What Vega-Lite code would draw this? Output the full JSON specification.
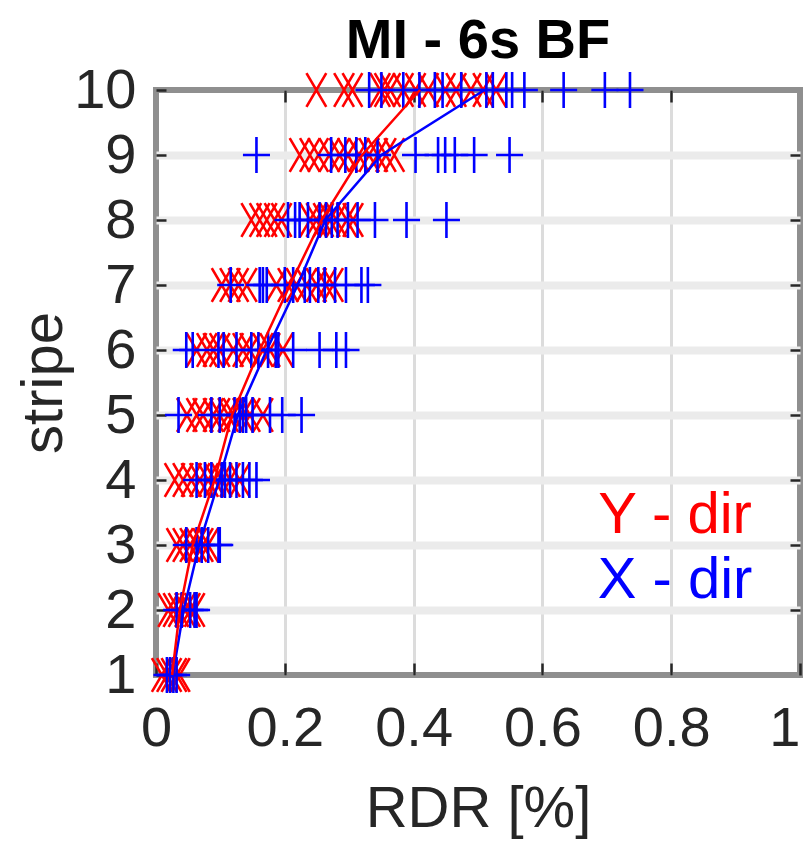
{
  "$schema": "https://vega.github.io/schema/vega-lite/v6.json",
  "autosize": "none",
  "width": 644,
  "height": 585,
  "padding": {"left": 156, "top": 90, "right": 10, "bottom": 184},
  "background": "white",
  "title": {"text": "MI - 6s BF", "fontSize": 56, "fontWeight": "bold", "font": "Liberation Sans", "color": "#000000", "offset": -8, "anchor": "middle"},
  "datasets": {
    "pts": [
      {"stripe": 10, "rdr": 0.249, "dir": "Y"}, {"stripe": 10, "rdr": 0.292, "dir": "Y"}, {"stripe": 10, "rdr": 0.305, "dir": "Y"}, {"stripe": 10, "rdr": 0.348, "dir": "Y"}, {"stripe": 10, "rdr": 0.355, "dir": "Y"}, {"stripe": 10, "rdr": 0.364, "dir": "Y"}, {"stripe": 10, "rdr": 0.384, "dir": "Y"}, {"stripe": 10, "rdr": 0.403, "dir": "Y"}, {"stripe": 10, "rdr": 0.423, "dir": "Y"}, {"stripe": 10, "rdr": 0.449, "dir": "Y"}, {"stripe": 10, "rdr": 0.466, "dir": "Y"}, {"stripe": 10, "rdr": 0.489, "dir": "Y"}, {"stripe": 10, "rdr": 0.508, "dir": "Y"}, {"stripe": 10, "rdr": 0.528, "dir": "Y"},
      {"stripe": 9, "rdr": 0.223, "dir": "Y"}, {"stripe": 9, "rdr": 0.239, "dir": "Y"}, {"stripe": 9, "rdr": 0.252, "dir": "Y"}, {"stripe": 9, "rdr": 0.269, "dir": "Y"}, {"stripe": 9, "rdr": 0.285, "dir": "Y"}, {"stripe": 9, "rdr": 0.298, "dir": "Y"}, {"stripe": 9, "rdr": 0.315, "dir": "Y"}, {"stripe": 9, "rdr": 0.331, "dir": "Y"}, {"stripe": 9, "rdr": 0.344, "dir": "Y"}, {"stripe": 9, "rdr": 0.357, "dir": "Y"}, {"stripe": 9, "rdr": 0.370, "dir": "Y"},
      {"stripe": 8, "rdr": 0.148, "dir": "Y"}, {"stripe": 8, "rdr": 0.161, "dir": "Y"}, {"stripe": 8, "rdr": 0.172, "dir": "Y"}, {"stripe": 8, "rdr": 0.184, "dir": "Y"}, {"stripe": 8, "rdr": 0.195, "dir": "Y"}, {"stripe": 8, "rdr": 0.239, "dir": "Y"}, {"stripe": 8, "rdr": 0.249, "dir": "Y"}, {"stripe": 8, "rdr": 0.260, "dir": "Y"}, {"stripe": 8, "rdr": 0.270, "dir": "Y"}, {"stripe": 8, "rdr": 0.280, "dir": "Y"}, {"stripe": 8, "rdr": 0.296, "dir": "Y"}, {"stripe": 8, "rdr": 0.306, "dir": "Y"},
      {"stripe": 7, "rdr": 0.102, "dir": "Y"}, {"stripe": 7, "rdr": 0.115, "dir": "Y"}, {"stripe": 7, "rdr": 0.128, "dir": "Y"}, {"stripe": 7, "rdr": 0.141, "dir": "Y"}, {"stripe": 7, "rdr": 0.187, "dir": "Y"}, {"stripe": 7, "rdr": 0.205, "dir": "Y"}, {"stripe": 7, "rdr": 0.218, "dir": "Y"}, {"stripe": 7, "rdr": 0.234, "dir": "Y"}, {"stripe": 7, "rdr": 0.249, "dir": "Y"}, {"stripe": 7, "rdr": 0.264, "dir": "Y"}, {"stripe": 7, "rdr": 0.275, "dir": "Y"},
      {"stripe": 6, "rdr": 0.063, "dir": "Y"}, {"stripe": 6, "rdr": 0.079, "dir": "Y"}, {"stripe": 6, "rdr": 0.089, "dir": "Y"}, {"stripe": 6, "rdr": 0.099, "dir": "Y"}, {"stripe": 6, "rdr": 0.120, "dir": "Y"}, {"stripe": 6, "rdr": 0.135, "dir": "Y"}, {"stripe": 6, "rdr": 0.146, "dir": "Y"}, {"stripe": 6, "rdr": 0.166, "dir": "Y"}, {"stripe": 6, "rdr": 0.177, "dir": "Y"}, {"stripe": 6, "rdr": 0.197, "dir": "Y"},
      {"stripe": 5, "rdr": 0.048, "dir": "Y"}, {"stripe": 5, "rdr": 0.063, "dir": "Y"}, {"stripe": 5, "rdr": 0.073, "dir": "Y"}, {"stripe": 5, "rdr": 0.089, "dir": "Y"}, {"stripe": 5, "rdr": 0.099, "dir": "Y"}, {"stripe": 5, "rdr": 0.112, "dir": "Y"}, {"stripe": 5, "rdr": 0.120, "dir": "Y"}, {"stripe": 5, "rdr": 0.135, "dir": "Y"}, {"stripe": 5, "rdr": 0.146, "dir": "Y"}, {"stripe": 5, "rdr": 0.166, "dir": "Y"},
      {"stripe": 4, "rdr": 0.029, "dir": "Y"}, {"stripe": 4, "rdr": 0.042, "dir": "Y"}, {"stripe": 4, "rdr": 0.055, "dir": "Y"}, {"stripe": 4, "rdr": 0.068, "dir": "Y"}, {"stripe": 4, "rdr": 0.081, "dir": "Y"}, {"stripe": 4, "rdr": 0.091, "dir": "Y"}, {"stripe": 4, "rdr": 0.102, "dir": "Y"}, {"stripe": 4, "rdr": 0.115, "dir": "Y"}, {"stripe": 4, "rdr": 0.130, "dir": "Y"},
      {"stripe": 3, "rdr": 0.032, "dir": "Y"}, {"stripe": 3, "rdr": 0.042, "dir": "Y"}, {"stripe": 3, "rdr": 0.053, "dir": "Y"}, {"stripe": 3, "rdr": 0.063, "dir": "Y"}, {"stripe": 3, "rdr": 0.073, "dir": "Y"}, {"stripe": 3, "rdr": 0.081, "dir": "Y"},
      {"stripe": 2, "rdr": 0.019, "dir": "Y"}, {"stripe": 2, "rdr": 0.027, "dir": "Y"}, {"stripe": 2, "rdr": 0.035, "dir": "Y"}, {"stripe": 2, "rdr": 0.045, "dir": "Y"}, {"stripe": 2, "rdr": 0.053, "dir": "Y"}, {"stripe": 2, "rdr": 0.060, "dir": "Y"},
      {"stripe": 1, "rdr": 0.009, "dir": "Y"}, {"stripe": 1, "rdr": 0.017, "dir": "Y"}, {"stripe": 1, "rdr": 0.024, "dir": "Y"}, {"stripe": 1, "rdr": 0.032, "dir": "Y"}, {"stripe": 1, "rdr": 0.037, "dir": "Y"},
      {"stripe": 10, "rdr": 0.331, "dir": "X"}, {"stripe": 10, "rdr": 0.350, "dir": "X"}, {"stripe": 10, "rdr": 0.384, "dir": "X"}, {"stripe": 10, "rdr": 0.409, "dir": "X"}, {"stripe": 10, "rdr": 0.433, "dir": "X"}, {"stripe": 10, "rdr": 0.445, "dir": "X"}, {"stripe": 10, "rdr": 0.474, "dir": "X"}, {"stripe": 10, "rdr": 0.513, "dir": "X"}, {"stripe": 10, "rdr": 0.523, "dir": "X"}, {"stripe": 10, "rdr": 0.544, "dir": "X"}, {"stripe": 10, "rdr": 0.553, "dir": "X"}, {"stripe": 10, "rdr": 0.572, "dir": "X"}, {"stripe": 10, "rdr": 0.633, "dir": "X"}, {"stripe": 10, "rdr": 0.697, "dir": "X"}, {"stripe": 10, "rdr": 0.736, "dir": "X"},
      {"stripe": 9, "rdr": 0.156, "dir": "X"}, {"stripe": 9, "rdr": 0.272, "dir": "X"}, {"stripe": 9, "rdr": 0.294, "dir": "X"}, {"stripe": 9, "rdr": 0.311, "dir": "X"}, {"stripe": 9, "rdr": 0.325, "dir": "X"}, {"stripe": 9, "rdr": 0.344, "dir": "X"}, {"stripe": 9, "rdr": 0.403, "dir": "X"}, {"stripe": 9, "rdr": 0.438, "dir": "X"}, {"stripe": 9, "rdr": 0.449, "dir": "X"}, {"stripe": 9, "rdr": 0.464, "dir": "X"}, {"stripe": 9, "rdr": 0.494, "dir": "X"}, {"stripe": 9, "rdr": 0.549, "dir": "X"},
      {"stripe": 8, "rdr": 0.205, "dir": "X"}, {"stripe": 8, "rdr": 0.216, "dir": "X"}, {"stripe": 8, "rdr": 0.223, "dir": "X"}, {"stripe": 8, "rdr": 0.236, "dir": "X"}, {"stripe": 8, "rdr": 0.254, "dir": "X"}, {"stripe": 8, "rdr": 0.264, "dir": "X"}, {"stripe": 8, "rdr": 0.273, "dir": "X"}, {"stripe": 8, "rdr": 0.282, "dir": "X"}, {"stripe": 8, "rdr": 0.298, "dir": "X"}, {"stripe": 8, "rdr": 0.313, "dir": "X"}, {"stripe": 8, "rdr": 0.340, "dir": "X"}, {"stripe": 8, "rdr": 0.389, "dir": "X"}, {"stripe": 8, "rdr": 0.451, "dir": "X"},
      {"stripe": 7, "rdr": 0.116, "dir": "X"}, {"stripe": 7, "rdr": 0.161, "dir": "X"}, {"stripe": 7, "rdr": 0.166, "dir": "X"}, {"stripe": 7, "rdr": 0.172, "dir": "X"}, {"stripe": 7, "rdr": 0.200, "dir": "X"}, {"stripe": 7, "rdr": 0.213, "dir": "X"}, {"stripe": 7, "rdr": 0.231, "dir": "X"}, {"stripe": 7, "rdr": 0.239, "dir": "X"}, {"stripe": 7, "rdr": 0.252, "dir": "X"}, {"stripe": 7, "rdr": 0.262, "dir": "X"}, {"stripe": 7, "rdr": 0.278, "dir": "X"}, {"stripe": 7, "rdr": 0.295, "dir": "X"}, {"stripe": 7, "rdr": 0.319, "dir": "X"}, {"stripe": 7, "rdr": 0.329, "dir": "X"},
      {"stripe": 6, "rdr": 0.047, "dir": "X"}, {"stripe": 6, "rdr": 0.057, "dir": "X"}, {"stripe": 6, "rdr": 0.097, "dir": "X"}, {"stripe": 6, "rdr": 0.105, "dir": "X"}, {"stripe": 6, "rdr": 0.125, "dir": "X"}, {"stripe": 6, "rdr": 0.148, "dir": "X"}, {"stripe": 6, "rdr": 0.159, "dir": "X"}, {"stripe": 6, "rdr": 0.174, "dir": "X"}, {"stripe": 6, "rdr": 0.186, "dir": "X"}, {"stripe": 6, "rdr": 0.190, "dir": "X"}, {"stripe": 6, "rdr": 0.213, "dir": "X"}, {"stripe": 6, "rdr": 0.254, "dir": "X"}, {"stripe": 6, "rdr": 0.280, "dir": "X"}, {"stripe": 6, "rdr": 0.295, "dir": "X"},
      {"stripe": 5, "rdr": 0.035, "dir": "X"}, {"stripe": 5, "rdr": 0.086, "dir": "X"}, {"stripe": 5, "rdr": 0.099, "dir": "X"}, {"stripe": 5, "rdr": 0.122, "dir": "X"}, {"stripe": 5, "rdr": 0.130, "dir": "X"}, {"stripe": 5, "rdr": 0.135, "dir": "X"}, {"stripe": 5, "rdr": 0.140, "dir": "X"}, {"stripe": 5, "rdr": 0.150, "dir": "X"}, {"stripe": 5, "rdr": 0.177, "dir": "X"}, {"stripe": 5, "rdr": 0.196, "dir": "X"}, {"stripe": 5, "rdr": 0.226, "dir": "X"},
      {"stripe": 4, "rdr": 0.063, "dir": "X"}, {"stripe": 4, "rdr": 0.076, "dir": "X"}, {"stripe": 4, "rdr": 0.086, "dir": "X"}, {"stripe": 4, "rdr": 0.102, "dir": "X"}, {"stripe": 4, "rdr": 0.107, "dir": "X"}, {"stripe": 4, "rdr": 0.115, "dir": "X"}, {"stripe": 4, "rdr": 0.125, "dir": "X"}, {"stripe": 4, "rdr": 0.135, "dir": "X"}, {"stripe": 4, "rdr": 0.145, "dir": "X"}, {"stripe": 4, "rdr": 0.156, "dir": "X"},
      {"stripe": 3, "rdr": 0.047, "dir": "X"}, {"stripe": 3, "rdr": 0.063, "dir": "X"}, {"stripe": 3, "rdr": 0.071, "dir": "X"}, {"stripe": 3, "rdr": 0.081, "dir": "X"}, {"stripe": 3, "rdr": 0.097, "dir": "X"}, {"stripe": 3, "rdr": 0.099, "dir": "X"},
      {"stripe": 2, "rdr": 0.032, "dir": "X"}, {"stripe": 2, "rdr": 0.040, "dir": "X"}, {"stripe": 2, "rdr": 0.053, "dir": "X"}, {"stripe": 2, "rdr": 0.060, "dir": "X"}, {"stripe": 2, "rdr": 0.063, "dir": "X"},
      {"stripe": 1, "rdr": 0.017, "dir": "X"}, {"stripe": 1, "rdr": 0.022, "dir": "X"}, {"stripe": 1, "rdr": 0.027, "dir": "X"}, {"stripe": 1, "rdr": 0.032, "dir": "X"}
    ],
    "means": [
      {"stripe": 1, "rdr": 0.026, "dir": "X"}, {"stripe": 2, "rdr": 0.043, "dir": "X"}, {"stripe": 3, "rdr": 0.067, "dir": "X"}, {"stripe": 4, "rdr": 0.098, "dir": "X"}, {"stripe": 5, "rdr": 0.127, "dir": "X"}, {"stripe": 6, "rdr": 0.172, "dir": "X"}, {"stripe": 7, "rdr": 0.220, "dir": "X"}, {"stripe": 8, "rdr": 0.263, "dir": "X"}, {"stripe": 9, "rdr": 0.350, "dir": "X"}, {"stripe": 10, "rdr": 0.510, "dir": "X"},
      {"stripe": 1, "rdr": 0.025, "dir": "Y"}, {"stripe": 2, "rdr": 0.037, "dir": "Y"}, {"stripe": 3, "rdr": 0.057, "dir": "Y"}, {"stripe": 4, "rdr": 0.091, "dir": "Y"}, {"stripe": 5, "rdr": 0.118, "dir": "Y"}, {"stripe": 6, "rdr": 0.161, "dir": "Y"}, {"stripe": 7, "rdr": 0.208, "dir": "Y"}, {"stripe": 8, "rdr": 0.257, "dir": "Y"}, {"stripe": 9, "rdr": 0.320, "dir": "Y"}, {"stripe": 10, "rdr": 0.410, "dir": "Y"}
    ],
    "labels": [
      {"stripe": 3.18, "rdr": 0.806, "dir": "Y", "label": "Y - dir"},
      {"stripe": 2.18, "rdr": 0.806, "dir": "X", "label": "X - dir"}
    ]
  },
  "layer": [
    {
      "data": {"name": "pts"},
      "mark": {"type": "point", "filled": false, "strokeWidth": 2.6, "size": 1300, "opacity": 1},
      "encoding": {
        "x": {"field": "rdr", "type": "quantitative", "scale": {"domain": [0, 1], "nice": false, "zero": false},
          "axis": {"orient": "bottom", "values": [0, 0.2, 0.4, 0.6, 0.8, 1], "format": ".1~f", "title": "RDR [%]", "grid": true, "gridColor": "#dcdcdc", "gridWidth": 3,
            "gridOpacity": {"condition": {"test": "datum.value <= 0 || datum.value >= 1", "value": 0}, "value": 1},
            "labelAlign": {"condition": {"test": "datum.value >= 1", "value": "right"}, "value": "center"},
            "labelDx": {"condition": {"test": "datum.value >= 1", "value": 8}, "value": 0},
            "tickSize": -12, "labelPadding": 38, "titlePadding": 24}},
        "y": {"field": "stripe", "type": "quantitative", "scale": {"domain": [1, 10], "nice": false, "zero": false},
          "axis": {"orient": "left", "values": [1, 2, 3, 4, 5, 6, 7, 8, 9, 10], "title": "stripe", "grid": true, "gridColor": "#ebebeb", "gridWidth": 8,
            "gridOpacity": {"condition": {"test": "datum.value <= 1 || datum.value >= 10", "value": 0}, "value": 1},
            "tickSize": -10, "labelPadding": 30, "titlePadding": 0}},
        "color": {"field": "dir", "type": "nominal", "scale": {"domain": ["X", "Y"], "range": ["#0000ff", "#ff0000"]}, "legend": null},
        "shape": {"field": "dir", "type": "nominal", "scale": {"domain": ["X", "Y"], "range": ["M0,-1V1M-0.75,0H0.75", "M-0.55,-0.94L0.55,0.94M-0.55,0.94L0.55,-0.94"]}, "legend": null}
      }
    },
    {
      "data": {"name": "means"},
      "mark": {"type": "line", "strokeWidth": 2.5},
      "encoding": {
        "x": {"field": "rdr", "type": "quantitative",
          "axis": {"orient": "top", "values": [0.2, 0.4, 0.6, 0.8], "labels": false, "title": null, "grid": false, "tickSize": -12}},
        "y": {"field": "stripe", "type": "quantitative",
          "axis": {"orient": "right", "values": [2, 3, 4, 5, 6, 7, 8, 9], "labels": false, "title": null, "grid": false, "tickSize": -10}},
        "color": {"field": "dir", "type": "nominal", "legend": null},
        "order": {"field": "stripe", "type": "quantitative"}
      }
    },
    {
      "data": {"name": "labels"},
      "mark": {"type": "text", "fontSize": 58, "font": "Liberation Sans", "align": "center", "baseline": "alphabetic"},
      "encoding": {
        "x": {"field": "rdr", "type": "quantitative", "axis": null},
        "y": {"field": "stripe", "type": "quantitative", "axis": null},
        "color": {"field": "dir", "type": "nominal", "legend": null},
        "text": {"field": "label"}
      }
    }
  ],
  "resolve": {"axis": {"x": "independent", "y": "independent"}},
  "config": {
    "view": {"stroke": "#8f8f8f", "strokeWidth": 6},
    "font": "Liberation Sans",
    "axis": {"domain": false, "labelFont": "Liberation Sans", "labelFontSize": 56, "labelColor": "#262626", "titleFont": "Liberation Sans", "titleFontSize": 58, "titleFontWeight": "normal", "titleColor": "#262626", "tickColor": "#262626", "tickWidth": 2.5, "labelFlush": false, "labelOverlap": false}
  }
}
